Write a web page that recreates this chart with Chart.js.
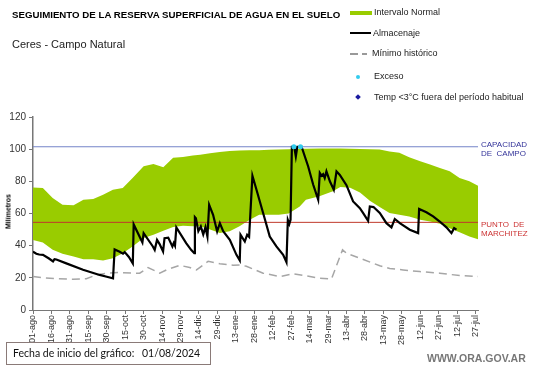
<!DOCTYPE html>
<html>
<head>
<meta charset="utf-8">
<script src="https://cdn.jsdelivr.net/npm/chart.js@4.4.1/dist/chart.umd.min.js"></script>
<style>
  body { margin: 0; background: #fff; }
  #wrap { position: relative; width: 541px; height: 368px; font-family: "Liberation Sans", Arial, sans-serif; }
  #chart { position: absolute; left: 0; top: 0; }
  .txt { position: absolute; white-space: nowrap; line-height: 1; }
  .leg { position: absolute; font-size: 9px; color: #222; white-space: nowrap; line-height: 1; }
</style>
</head>
<body>
<div id="wrap">
  <canvas id="chart" width="541" height="368"></canvas>

  <div class="txt" style="left:12px; top:10px; font-size:9.7px; font-weight:bold;">SEGUIMIENTO DE LA RESERVA  SUPERFICIAL DE AGUA EN EL SUELO</div>
  <div class="txt" style="left:12px; top:39px; font-size:11px; color:#222;">Ceres - Campo Natural</div>

  <!-- legend -->
  <div style="position:absolute; left:350px; top:11px; width:22px; height:4px; background:#99cc00;"></div>
  <div class="leg" style="left:374px; top:8px;">Intervalo Normal</div>
  <div style="position:absolute; left:350px; top:32px; width:21px; height:2px; background:#000;"></div>
  <div class="leg" style="left:373px; top:29px;">Almacenaje</div>
  <div style="position:absolute; left:350px; top:53px; width:8px; height:1.5px; background:#999;"></div>
  <div style="position:absolute; left:362px; top:53px; width:5px; height:1.5px; background:#999;"></div>
  <div class="leg" style="left:372px; top:49px;">Mínimo histórico</div>
  <div style="position:absolute; left:356px; top:75px; width:4px; height:4px; border-radius:2px; background:#33ccee;"></div>
  <div class="leg" style="left:374px; top:72px;">Exceso</div>
  <div style="position:absolute; left:356px; top:95px; width:4px; height:4px; background:#1a1aa0; transform:rotate(45deg);"></div>
  <div class="leg" style="left:374px; top:93px;">Temp &lt;3°C fuera del período habitual</div>

  <div class="txt" style="left:1px; top:222px; font-size:7px; font-weight:bold; transform:translate(0,-50%) rotate(-90deg); transform-origin:center; width:14px; text-align:center;">Milímetros</div>

  <div class="txt" style="left:481px; top:140px; font-size:8px; color:#333399; line-height:9px;">CAPACIDAD<br>DE&nbsp; CAMPO</div>
  <div class="txt" style="left:481px; top:220px; font-size:8px; color:#cc3333; line-height:9px;">PUNTO&nbsp; DE<br>MARCHITEZ</div>

  <div style="position:absolute; left:6px; top:342px; width:205px; height:23px; border:1px solid #8a7a78; box-sizing:border-box;"></div>
  <div class="txt" style="left:13px; top:348px; font-size:10.5px; font-family:Lato,sans-serif; color:#111;">Fecha de inicio del gráfico:</div>
  <div class="txt" style="left:142px; top:348px; font-size:10.5px; font-family:Lato,sans-serif; color:#111;">01/08/2024</div>
  <div class="txt" style="left:427px; top:353px; font-size:10.5px; font-weight:bold; color:#777;">WWW.ORA.GOV.AR</div>
</div>

<script>
// tick labels every 15 days from 01/08/2024
var tickLabels = ['01-ago', '16-ago', '31-ago', '15-sep', '30-sep', '15-oct', '30-oct', '14-nov', '29-nov',
    '14-dic', '29-dic', '13-ene', '28-ene', '12-feb', '27-feb', '14-mar', '29-mar', '13-abr', '28-abr',
    '13-may', '28-may', '12-jun', '27-jun', '12-jul', '27-jul'];

// normal interval (green band), day index from start date
var bandDays  = [0, 8, 16, 24, 33, 41, 49, 57, 65, 73, 81, 90, 98, 106, 114, 122, 130, 136, 144, 152, 160, 168, 176,
    184, 192, 200, 208, 217, 222, 233, 244, 250, 258, 266, 274, 282, 290, 298, 306, 315, 323, 331, 339, 347, 355, 362];
var bandUpper = [76.2, 75.9, 69.7, 65.5, 65.1, 68.6, 69, 71.7, 74.8, 75.9, 82.1, 89.4, 90.8, 88.7, 94.6, 95.2, 96, 96.6,
    97.5, 98.3, 98.8, 99.1, 99.3, 99.4, 99.6, 99.8, 100, 100.2, 100.3, 100.4, 100.4, 100.4, 100.2, 100.1, 100, 99.8,
    98.5, 97.7, 95, 92.5, 90.4, 88.3, 86.2, 82.1, 80, 77.3];
var bandLower = [43.6, 42, 37.4, 34.9, 33.2, 31.6, 31.6, 30.7, 32.2, 35.3, 39.5, 44.7, 46.8, 49.3, 51.6, 52.4, 52, 52,
    50, 47.8, 49, 52, 56, 59.2, 59.2, 59.2, 60, 64.4, 68.6, 70.7, 73.8, 76.5, 76, 73, 68, 64, 60.3, 59.2, 58.2, 56.1,
    55.1, 53.6, 50.9, 48.4, 45.7, 44];

// soil water storage (Almacenaje)
var almDays = [0, 2.7, 5, 8.1, 13, 16.3, 17.5, 19, 27.1, 40.7, 54.2, 60, 65.1, 66.4, 70.5, 73.2, 74.6, 78, 81.2, 81.9,
    89, 90, 97.5, 99, 100.9, 103, 105.8, 107, 110, 113.4, 114.5, 115.5, 116.6, 124.6, 128.6, 131.2, 131.7, 132.5,
    134.5, 136.5, 138.5, 140.3, 141.9, 143.3, 146.5, 149.8, 152, 154.7, 160.1, 165.5, 168.2, 168.8, 172.3, 174.2,
    175.8, 178.5, 181.8, 187.2, 192.6, 198, 203.5, 206.2, 207.3, 208.5, 209.5, 210.6, 212.5, 213.8, 215, 218.5,
    223.8, 227.9, 232, 233.3, 234.7, 236, 237.3, 238.7, 241.5, 244.7, 246.9, 249.6, 255, 260.4, 263.1, 265.9, 268.6,
    272.6, 274, 277, 282.1, 287.5, 291.6, 294.3, 298.4, 306.5, 313.3, 314.1, 320, 325.5, 330.9, 336.3, 340.4, 342.6,
    344.5];
var almVals = [36.3, 35, 34.5, 34.3, 32, 30.2, 31.6, 31.4, 29, 25, 21.8, 20.7, 19.7, 37.6, 36.2, 35, 36, 33, 29, 53.2,
    42, 47.8, 39.5, 37.4, 43.6, 41, 36.4, 44.7, 45, 39.5, 41.6, 40, 51.4, 41.6, 37.4, 35.3, 57.7, 57,
    49, 52, 47, 51.5, 45.7, 65.4, 59.2, 48.8, 54, 49, 43.6, 34.3, 30.8, 46.8, 42.6, 46.8,
    45.5, 83.5, 74.8, 60.3, 45.7, 39.5, 34.3, 29.7, 56, 53.5, 56, 101.5, 101.5, 95.5, 101.5, 101.5,
    89.4, 78, 68.6, 85.2, 83.5, 84.5, 82.1, 86.2, 80, 74.8, 86.2, 84, 77.6, 67.5, 65.4, 63.3, 60.2,
    55.4, 64.4, 64, 60.3, 54, 51.4, 56.6, 54, 49.9, 47.8, 62.8, 60.8, 58.2, 55, 51.4, 47.8, 50.9,
    50];

// historical minimum
var minDays = [0, 8.1, 19, 32.6, 43.4, 51.5, 59.7, 70.5, 81.4, 86.8, 93.6, 103.1, 108.5, 119.3, 127.5, 133, 142.5,
    152, 162.8, 168.2, 173.6, 187.2, 200.8, 211.6, 222.5, 233.3, 242.8, 251.8, 255, 265.9, 282.1, 290.2, 301.1,
    314.6, 330.9, 347.1, 362];
var minVals = [20.8, 20, 19.5, 19.1, 19.5, 21.8, 22.9, 23.3, 22.9, 22.9, 26.4, 22.9, 24.9, 27.8, 26.4, 24.9, 30.3,
    28.8, 27.8, 28, 27.2, 22.9, 20.8, 22.5, 21.2, 19.7, 19.3, 37.4, 35.3, 32.2, 27.5, 25.8, 24.9,
    23.9, 22.9, 21.4, 20.8];

// excess days
var excesoDays = [212.2, 217.6];
var excesoVals = [101.5, 101.5];

var capacidad = 101.5;
var marchitez = 54.5;
var lastDay = 362;

function pts(xs, ys) {
    return xs.map(function (x, i) { return { x: x, y: ys[i] }; });
}

var ctx = document.getElementById('chart').getContext('2d');
var chart = new Chart(ctx, {
    type: 'line',
    data: {
        datasets: [
            {
                label: 'sup', data: pts(bandDays, bandUpper), borderWidth: 0, pointRadius: 0,
                backgroundColor: '#99cc00', fill: '+1', order: 10, tension: 0
            },
            {
                label: 'inf', data: pts(bandDays, bandLower), borderWidth: 0, pointRadius: 0,
                fill: false, order: 10
            },
            {
                label: 'Capacidad', data: pts([0, lastDay], [capacidad, capacidad]), borderColor: '#7484c8',
                borderWidth: 1, pointRadius: 0, fill: false, order: 4
            },
            {
                label: 'Marchitez', data: pts([0, lastDay], [marchitez, marchitez]), borderColor: '#c0392b',
                borderWidth: 1, pointRadius: 0, fill: false, order: 4
            },
            {
                label: 'Mínimo histórico', data: pts(minDays, minVals), borderColor: '#a6a6a6',
                borderWidth: 1.5, borderDash: [8, 5], pointRadius: 0, fill: false, order: 3
            },
            {
                label: 'Almacenaje', data: pts(almDays, almVals), borderColor: '#000',
                borderWidth: 2.2, pointRadius: 0, fill: false, order: 1
            },
            {
                label: 'Exceso', data: pts(excesoDays, excesoVals), showLine: false,
                pointRadius: 2.5, pointBackgroundColor: '#33ccee', pointBorderWidth: 0, order: 0
            }
        ]
    },
    options: {
        responsive: false,
        animation: false,
        layout: { padding: { top: 117, right: 63, left: 0, bottom: 0 } },
        plugins: { legend: { display: false }, tooltip: { enabled: false } },
        scales: {
            x: {
                type: 'linear', min: 0, max: lastDay,
                afterBuildTicks: function (scale) {
                    scale.ticks = tickLabels.map(function (_, i) { return { value: i * 15 }; });
                },
                afterFit: function (scale) { scale.height = 58; },
                ticks: {
                    autoSkip: false, maxRotation: 90, minRotation: 90, padding: 1,
                    color: '#333', font: { family: 'Liberation Sans', size: 9 },
                    callback: function (v) { return tickLabels[Math.round(v / 15)]; }
                },
                grid: { drawOnChartArea: false, drawTicks: true, tickLength: 4, color: '#777' },
                border: { color: '#777', width: 1 }
            },
            y: {
                min: 0, max: 120,
                afterFit: function (scale) { scale.width = 33; },
                ticks: { stepSize: 20, padding: 3, color: '#333', font: { family: 'Liberation Sans', size: 10 } },
                grid: { drawOnChartArea: false, drawTicks: true, tickLength: 4, color: '#777' },
                border: { color: '#777', width: 1.5 }
            }
        }
    }
});
</script>
</body>
</html>
